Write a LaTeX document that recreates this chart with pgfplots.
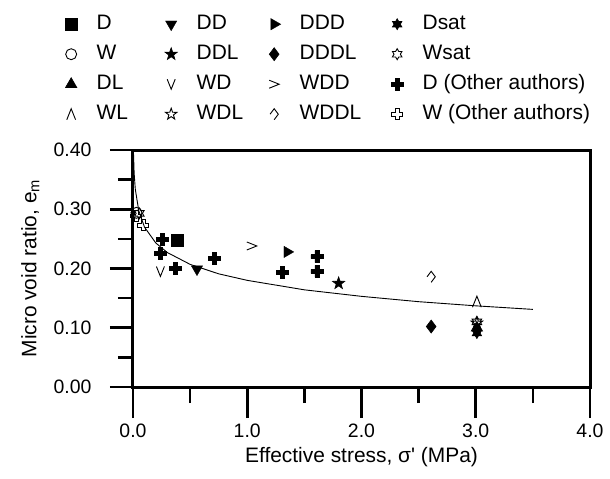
\documentclass[border=0pt]{standalone}
\usepackage{fontspec}
\setmainfont{Liberation Sans}
\usepackage{pgfplots}
\pgfplotsset{compat=1.18}
\usetikzlibrary{plotmarks}

\newcommand\crosspath{%
  \pgfpathmoveto{\pgfqpoint{.33\pgfplotmarksize}{\pgfplotmarksize}}%
  \pgfpathlineto{\pgfqpoint{.33\pgfplotmarksize}{.33\pgfplotmarksize}}%
  \pgfpathlineto{\pgfqpoint{\pgfplotmarksize}{.33\pgfplotmarksize}}%
  \pgfpathlineto{\pgfqpoint{\pgfplotmarksize}{-.33\pgfplotmarksize}}%
  \pgfpathlineto{\pgfqpoint{.33\pgfplotmarksize}{-.33\pgfplotmarksize}}%
  \pgfpathlineto{\pgfqpoint{.33\pgfplotmarksize}{-\pgfplotmarksize}}%
  \pgfpathlineto{\pgfqpoint{-.33\pgfplotmarksize}{-\pgfplotmarksize}}%
  \pgfpathlineto{\pgfqpoint{-.33\pgfplotmarksize}{-.33\pgfplotmarksize}}%
  \pgfpathlineto{\pgfqpoint{-\pgfplotmarksize}{-.33\pgfplotmarksize}}%
  \pgfpathlineto{\pgfqpoint{-\pgfplotmarksize}{.33\pgfplotmarksize}}%
  \pgfpathlineto{\pgfqpoint{-.33\pgfplotmarksize}{.33\pgfplotmarksize}}%
  \pgfpathlineto{\pgfqpoint{-.33\pgfplotmarksize}{\pgfplotmarksize}}%
  \pgfpathclose}
\newcommand\starfivepath{%
  \pgfpathmoveto{\pgfpointpolar{90}{\pgfplotmarksize}}%
  \pgfpathlineto{\pgfpointpolar{126}{.4\pgfplotmarksize}}%
  \pgfpathlineto{\pgfpointpolar{162}{\pgfplotmarksize}}%
  \pgfpathlineto{\pgfpointpolar{198}{.4\pgfplotmarksize}}%
  \pgfpathlineto{\pgfpointpolar{234}{\pgfplotmarksize}}%
  \pgfpathlineto{\pgfpointpolar{270}{.4\pgfplotmarksize}}%
  \pgfpathlineto{\pgfpointpolar{306}{\pgfplotmarksize}}%
  \pgfpathlineto{\pgfpointpolar{342}{.4\pgfplotmarksize}}%
  \pgfpathlineto{\pgfpointpolar{18}{\pgfplotmarksize}}%
  \pgfpathlineto{\pgfpointpolar{54}{.4\pgfplotmarksize}}%
  \pgfpathclose}
\newcommand\starsixpath{%
  \pgfpathmoveto{\pgfpointpolar{90}{\pgfplotmarksize}}%
  \pgfpathlineto{\pgfpointpolar{120}{.577\pgfplotmarksize}}%
  \pgfpathlineto{\pgfpointpolar{150}{\pgfplotmarksize}}%
  \pgfpathlineto{\pgfpointpolar{180}{.577\pgfplotmarksize}}%
  \pgfpathlineto{\pgfpointpolar{210}{\pgfplotmarksize}}%
  \pgfpathlineto{\pgfpointpolar{240}{.577\pgfplotmarksize}}%
  \pgfpathlineto{\pgfpointpolar{270}{\pgfplotmarksize}}%
  \pgfpathlineto{\pgfpointpolar{300}{.577\pgfplotmarksize}}%
  \pgfpathlineto{\pgfpointpolar{330}{\pgfplotmarksize}}%
  \pgfpathlineto{\pgfpointpolar{0}{.577\pgfplotmarksize}}%
  \pgfpathlineto{\pgfpointpolar{30}{\pgfplotmarksize}}%
  \pgfpathlineto{\pgfpointpolar{60}{.577\pgfplotmarksize}}%
  \pgfpathclose}
\pgfdeclareplotmark{crossf}{\crosspath\pgfusepathqfillstroke}
\pgfdeclareplotmark{crosso}{\crosspath\pgfusepathqstroke}
\pgfdeclareplotmark{starfivef}{\starfivepath\pgfusepathqfillstroke}
\pgfdeclareplotmark{starfiveo}{\starfivepath\pgfusepathqstroke}
\pgfdeclareplotmark{starsixf}{\starsixpath\pgfusepathqfillstroke}
\pgfdeclareplotmark{starsixo}{\starsixpath\pgfusepathqstroke}
\pgfdeclareplotmark{veem}{%
  \pgfpathmoveto{\pgfqpoint{-.8\pgfplotmarksize}{\pgfplotmarksize}}%
  \pgfpathlineto{\pgfqpoint{0pt}{-\pgfplotmarksize}}%
  \pgfpathlineto{\pgfqpoint{.8\pgfplotmarksize}{\pgfplotmarksize}}%
  \pgfusepathqstroke}
\pgfdeclareplotmark{wedgem}{%
  \pgfpathmoveto{\pgfqpoint{-.8\pgfplotmarksize}{-\pgfplotmarksize}}%
  \pgfpathlineto{\pgfqpoint{0pt}{\pgfplotmarksize}}%
  \pgfpathlineto{\pgfqpoint{.8\pgfplotmarksize}{-\pgfplotmarksize}}%
  \pgfusepathqstroke}
\pgfdeclareplotmark{gtm}{%
  \pgfpathmoveto{\pgfqpoint{-\pgfplotmarksize}{.8\pgfplotmarksize}}%
  \pgfpathlineto{\pgfqpoint{\pgfplotmarksize}{0pt}}%
  \pgfpathlineto{\pgfqpoint{-\pgfplotmarksize}{-.8\pgfplotmarksize}}%
  \pgfusepathqstroke}
\pgfdeclareplotmark{diamopen}{%
  \pgfpathmoveto{\pgfqpoint{-.75\pgfplotmarksize}{0pt}}%
  \pgfpathlineto{\pgfqpoint{0pt}{\pgfplotmarksize}}%
  \pgfpathlineto{\pgfqpoint{.75\pgfplotmarksize}{0pt}}%
  \pgfpathlineto{\pgfqpoint{0pt}{-\pgfplotmarksize}}%
  \pgfusepathqstroke}

\newcommand\ca[1]{\makebox[66bp][l]{#1}}
\newcommand\cb[1]{\makebox[69bp][l]{#1}}
\newcommand\cc[1]{\makebox[89bp][l]{#1}}

\pgfplotsset{
  filled/.style={only marks, mark options={solid, line width=0.6bp, draw=black, fill=black}},
  open/.style={only marks, mark options={solid, line width=0.9bp, draw=black, fill=white}},
}

\begin{document}
\begin{tikzpicture}
\path[use as bounding box] (-133bp,-92bp) rectangle (477bp,387bp);
\begin{axis}[
  scale only axis, width=457bp, height=237bp,
  at={(0,0)}, anchor=south west,
  xmin=0, xmax=4, ymin=0, ymax=0.4,
  xtick={0,1,2,3,4}, ytick={0,0.1,0.2,0.3,0.4},
  minor x tick num=1, minor y tick num=1,
  xtick pos=bottom, ytick pos=left, tick align=outside,
  separate axis lines,
  axis line style={line width=3bp, line cap=rect, black},
  tick style={black, line width=2.6bp},
  major tick style={line width=2.6bp},
  minor tick style={line width=2.6bp},
  major tick length=23bp, minor tick length=15bp,
  xtick style={/pgfplots/major tick length=31bp, /pgfplots/minor tick length=16bp},
  xticklabel style={/pgf/number format/fixed, /pgf/number format/fixed zerofill, /pgf/number format/precision=1, yshift=-10bp},
  yticklabel style={/pgf/number format/fixed, /pgf/number format/fixed zerofill, /pgf/number format/precision=2, xshift=-15bp},
  /pgf/number format/assume math mode=true,
  tick label style={font=\fontsize{19.5}{22}\selectfont},
  label style={font=\fontsize{21}{24}\selectfont},
  xlabel={Effective stress, σ\textquotesingle\ (MPa)},
  ylabel={Micro void ratio, e\textsubscript{m}},
  xlabel style={at={(axis description cs:0.5,0)}, anchor=north, yshift=-57bp},
  ylabel style={at={(axis description cs:-0.197,0.5)}, anchor=south},
  legend image code/.code={%
    \path[draw=none, fill=none] (-8.5bp,0bp) (8.5bp,0bp);
    \path[#1, draw=none, fill=none] plot[only marks] coordinates {(0bp,0bp)};},
  legend columns=4,
  legend cell align=left,
  legend style={at={(-0.1543,1.5717)}, anchor=north west, draw=none, fill=none,
    inner sep=0pt, column sep=0pt, row sep=11bp,
    font=\fontsize{21}{24}\selectfont,
    nodes={inner xsep=0pt, inner ysep=0pt, text height=15bp, text depth=4bp},
    /tikz/every odd column/.style={column sep=17bp}},
]
% fitted curve
\addplot[black, line width=0.9bp, no marks, forget plot] coordinates {
 (0.004,0.397) (0.01,0.361) (0.02,0.334) (0.05,0.298) (0.1,0.270) (0.2,0.243)
 (0.3,0.227) (0.5,0.207) (0.75,0.191) (1.0,0.180) (1.5,0.164) (2.0,0.153)
 (2.5,0.144) (3.0,0.137) (3.5,0.131)};
% row 1
\addplot[filled, mark=square*, mark size=6.2bp] coordinates {(0.39,0.248)};
\addlegendentry{\ca{D}}
\addplot[filled, mark=triangle*, mark size=6.5bp, mark options={rotate=180}] coordinates {(0.56,0.199)};
\addlegendentry{\cb{DD}}
\addplot[filled, mark=triangle*, mark size=6.5bp, mark options={rotate=-90}] coordinates {(1.35,0.228)};
\addlegendentry{\cc{DDD}}
\addplot[filled, mark=starsixf, mark size=5.5bp] coordinates {(3.01,0.091)};
\addlegendentry{Dsat}
% row 2
\addplot[open, mark=o, mark size=5.5bp] coordinates {(0.03,0.294)};
\addlegendentry{\ca{W}}
\addplot[filled, mark=starfivef, mark size=6.5bp] coordinates {(1.80,0.175)};
\addlegendentry{\cb{DDL}}
\addplot[filled, mark=diamond*, mark size=6.5bp] coordinates {(2.61,0.102)};
\addlegendentry{\cc{DDDL}}
\addplot[open, mark=starsixo, mark size=5.5bp] coordinates {(0.055,0.293) (3.01,0.110)};
\addlegendentry{Wsat}
% row 3
\addplot[filled, mark=triangle*, mark size=6.5bp] coordinates {(3.01,0.100)};
\addlegendentry{\ca{DL}}
\addplot[open, mark=veem, mark size=5bp] coordinates {(0.24,0.195)};
\addlegendentry{\cb{WD}}
\addplot[open, mark=gtm, mark size=5bp] coordinates {(1.04,0.238)};
\addlegendentry{\cc{WDD}}
\addplot[filled, mark=crossf, mark size=6bp] coordinates {
 (0.26,0.249) (0.24,0.226) (0.37,0.200) (0.71,0.217) (1.31,0.194) (1.61,0.220) (1.61,0.195)};
\addlegendentry{D (Other authors)}
% row 4
\addplot[open, mark=wedgem, mark size=5.5bp] coordinates {(3.01,0.144)};
\addlegendentry{\ca{WL}}
\addplot[open, mark=starfiveo, mark size=6bp] coordinates {(3.01,0.108)};
\addlegendentry{\cb{WDL}}
\addplot[open, mark=diamopen, mark size=5.5bp] coordinates {(2.61,0.186)};
\addlegendentry{\cc{WDDL}}
\addplot[open, mark=crosso, mark size=5.5bp] coordinates {(0.09,0.273) (0.03,0.289)};
\addlegendentry{W (Other authors)}
\end{axis}
\end{tikzpicture}
\end{document}
